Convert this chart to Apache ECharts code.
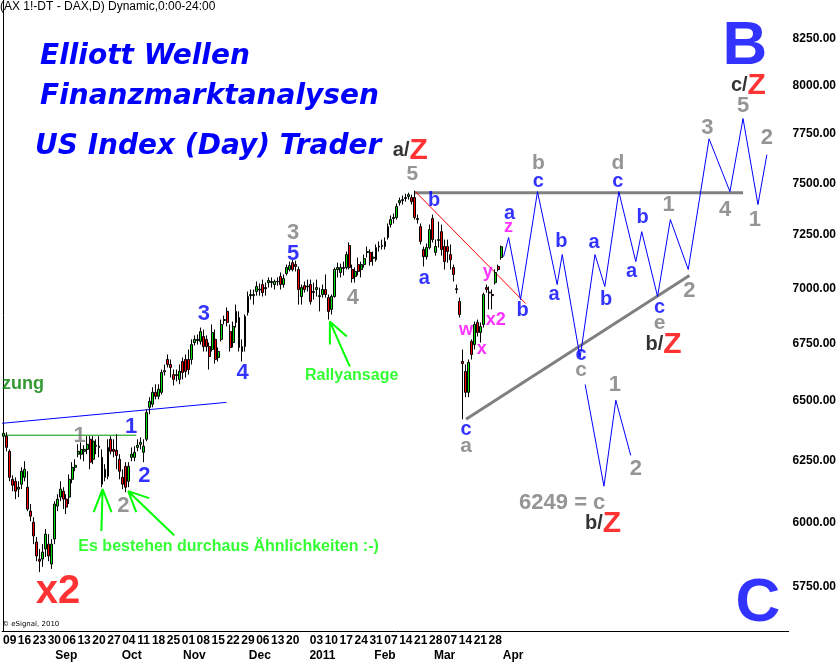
<!DOCTYPE html>
<html><head><meta charset="utf-8">
<script src="https://cdn.jsdelivr.net/npm/echarts@6/dist/echarts.min.js"></script>
<style>html,body{margin:0;padding:0;background:#fff}#c{width:839px;height:662px}</style>
</head><body><div id="c"></div>
<script>
// ---------------- DATA ----------------
const startDate = '2010-08-05';
const slotCount = 264;
const holidays = ['2010-12-24','2010-12-31','2011-04-22','2011-04-25'];
const dayTicks = ['2010-08-09','2010-08-16','2010-08-23','2010-08-30','2010-09-06','2010-09-13','2010-09-20','2010-09-27','2010-10-04','2010-10-11','2010-10-18','2010-10-25','2010-11-01','2010-11-08','2010-11-15','2010-11-22','2010-11-29','2010-12-06','2010-12-13','2010-12-20','2011-01-03','2011-01-10','2011-01-17','2011-01-24','2011-01-31','2011-02-07','2011-02-14','2011-02-21','2011-02-28','2011-03-07','2011-03-14','2011-03-21','2011-03-28'];
const monthTickDates = ['2010-09-03','2010-10-05','2010-11-03','2010-12-03','2011-01-05','2011-02-03','2011-03-03','2011-04-05'];
const monthTickText = ['Sep','Oct','Nov','Dec','2011','Feb','Mar','Apr'];
const priceTicks = [5750,6000,6250,6500,6750,7000,7250,7500,7750,8000,8250];
const priceMin = 5585, priceMax = 8464;
const lastPrice = 7194;

const opens = [6350,6350,6287,6172,6164,6132,6152,6180,6140,6044,
6000,5922,5856,5856,5895,5914,5837,5934,6064,6100,
6124,6092,6100,6172,6221,6275,6275,6287,6295,6337,
6254,6308,6308,6262,6180,6184,6337,6295,6291,6254,
6180,6225,6164,6262,6262,6303,6316,6283,6337,6472,
6485,6536,6519,6536,6625,6679,6657,6613,6609,6592,
6670,6679,6679,6679,6754,6763,6759,6781,6768,6736,
6723,6768,6688,6768,6853,6894,6803,6754,6844,6866,
6736,6736,6889,6966,6966,6985,6992,7017,7003,7026,
7026,7017,7030,7054,7017,7068,7087,7119,7110,7087,
6962,7012,7006,7017,6985,6994,6966,6971,6994,6957,
6903,6962,7087,7073,7096,7096,7200,7087,7054,7110,
7087,7110,7167,7167,7140,7133,7193,7200,7195,7238,
7300,7329,7334,7406,7416,7426,7436,7431,7431,7324,
7290,7181,7147,7190,7329,7167,7224,7266,7195,7195,
7157,7096,6998,6939,6670,6627,6536,6759,6745,6844,
6799,6835,7003,6982,6971,7026,7101,7143];
const closes = [6362,6303,6180,6148,6124,6140,6205,6213,6052,6024,
5946,5868,5848,5883,5953,5868,5914,6072,6092,6132,
6092,6060,6172,6221,6229,6287,6295,6295,6316,6242,
6329,6312,6303,6152,6213,6303,6287,6287,6270,6205,
6152,6140,6225,6275,6283,6312,6324,6308,6450,6497,
6536,6519,6549,6622,6630,6657,6644,6592,6613,6627,
6622,6627,6635,6745,6768,6768,6803,6736,6736,6692,
6799,6679,6714,6835,6857,6844,6732,6826,6894,6732,
6714,6871,6962,6971,6971,7008,6996,6980,6998,7036,
7031,7031,7032,7017,7045,7096,7105,7087,7101,6994,
7003,6994,7010,6939,6980,7003,6962,6994,6971,6894,
6962,7087,7096,7096,7092,7157,7096,7045,7078,7078,
7110,7138,7171,7124,7145,7190,7197,7195,7219,7290,
7324,7334,7387,7416,7421,7431,7445,7411,7334,7329,
7219,7147,7190,7276,7228,7195,7228,7181,7124,7171,
7133,7064,6994,6880,6661,6536,6666,6701,6835,6799,
6826,6971,6994,6978,6966,7073,7087,7194];
const lows = [6337,6287,6164,6124,6092,6100,6132,6164,6044,6004,
5914,5848,5806,5826,5864,5848,5818,5914,6044,6084,
6052,6032,6072,6156,6205,6262,6254,6246,6275,6213,
6234,6275,6262,6140,6164,6172,6275,6262,6213,6172,
6132,6120,6140,6246,6246,6287,6295,6242,6329,6442,
6472,6506,6506,6527,6609,6644,6600,6566,6583,6571,
6592,6600,6613,6657,6741,6745,6745,6714,6714,6635,
6714,6661,6670,6759,6835,6826,6714,6732,6821,6714,
6670,6714,6875,6948,6925,6966,6966,6962,6966,7003,
7003,6994,7012,6994,7003,7059,7078,7078,7078,6925,
6925,6980,6985,6925,6948,6962,6894,6957,6957,6857,
6880,6957,7050,7050,7059,7087,7087,7026,7026,7059,
7050,7096,7143,7105,7105,7124,7171,7181,7181,7228,
7286,7305,7324,7392,7397,7411,7421,7397,7324,7305,
7205,7101,7133,7181,7214,7152,7190,7152,7087,7119,
7087,7031,6976,6866,6421,6515,6515,6679,6723,6781,
6754,6821,6980,6903,6903,7017,7078,7133];
const highs = [6387,6366,6295,6188,6180,6164,6221,6246,6205,6072,
6020,5942,5895,5914,5973,5953,5934,6084,6112,6164,
6140,6112,6192,6242,6254,6316,6324,6312,6350,6350,
6350,6337,6350,6295,6234,6337,6350,6337,6358,6275,
6213,6242,6242,6303,6308,6337,6345,6337,6463,6515,
6558,6571,6571,6635,6657,6701,6679,6635,6635,6657,
6688,6701,6723,6768,6786,6790,6821,6812,6786,6754,
6835,6812,6732,6857,6875,6912,6835,6848,6925,6894,
6768,6880,6985,6994,6994,7031,7022,7040,7026,7050,
7050,7040,7050,7073,7064,7110,7124,7133,7128,7101,
7017,7031,7040,7040,7026,7040,7003,7017,7064,6971,
6971,7096,7119,7114,7124,7171,7215,7110,7096,7143,
7124,7157,7195,7181,7171,7205,7219,7228,7238,7305,
7344,7353,7402,7431,7441,7450,7455,7445,7465,7348,
7305,7195,7209,7300,7348,7228,7314,7300,7228,7228,
7205,7110,7017,6957,6723,6657,6679,6768,6848,6857,
6844,6980,7017,7008,6994,7087,7110,7200];

// drawn lines: [slot index, price]
const triangleTop = [[137.8,7455],[248.2,7455]];
const triangleBottom = [[155.2,6421],[230.2,7059]];
const redTrend = [[138.2,7460],[175.2,6930]];
const blueTrend = [[-0.5,6404],[74.8,6493]];
const greenNeck = [[-0.5,6354],[44.5,6354]];
const pathMain = [[167.8,7147],[169.5,7238],[173.5,6948],[179.2,7460],[185.8,7017],[187.5,7157],[193.5,6687],[198.5,7157],[201.8,7008],[206.5,7460],[212.2,7124],[214.2,7266],[219.5,6962],[223.8,7324],[229.8,7087],[236.8,7724],[243.8,7460],[248.2,7828],[253.2,7397],[256.2,7644]];
const pathAlt = [[195.2,6570],[201.5,6144],[205.5,6502],[210.5,6270]];
const arrowA = [[30.2,6040],[33.2,6132],[36.2,6040],[33.2,6132],[32.8,5965]];
const arrowB = [[44.5,6040],[41.8,6124],[48.8,6096],[41.8,6124],[57.2,5949]];
const arrowC = [[109.5,6745],[109.5,6848],[115.2,6781],[109.5,6848],[116.2,6648]];

// annotations
const annX = [136.5,137.2,144.5,141.2,155.2,155.2,155.2,160.5,165.2,162.5,169.5,169.8,174.2,179.5,179.5,187.2,184.8,193.8,193.8,198.2,202.2,206.2,206.2,214.5,210.8,223.2,220.2,220.2,221.5,230.2,236.2,242.2,248.2,252.2,256.2,250.0,248.8,253.2,205.2,212.2,187.5,201.2,18.2,25.5,42.8,47.2,40.2,67.2,80.2,97.2,97.2,117.2,116.8,75.5,6.5];
const annP = [7664,7544,7416,7045,6379,6308,6812,6723,6857,7073,7290,7353,6898,7600,7509,7219,6971,6701,6631,7214,6948,7600,7509,7334,7078,7397,6912,6839,6745,6989,7782,7372,7894,7324,7730,8000,8206,5687,6566,6213,6076,5994,5730,6350,6387,6184,6064,6884,6618,7262,7162,6957,6609,5905,6570];
const annText = ['a/Z','5','b','a','c','a','w','x','x2','y','z','a','b','b','c','b','a','c','c','a','b','d','c','b','a','1','c','e','b/Z','2','3','4','5','1','2','c/Z','B','C','1','2','6249 = c','b/Z','x2','1','1','2','2','3','4','3','5','4','Rallyansage','Es bestehen durchaus Ähnlichkeiten :-)','zung'];
const annKind = ['slash','grey','blue','blue','blue','grey','mag','mag','mag','mag','mag','blue','blue','grey','blue','blue','blue','blue','grey','blue','blue','grey','blue','blue','blue','greyN','blue','grey','slash','greyN','greyN','greyN','greyN','greyN','greyN','slash','big','big','greyN','greyN','greyN','slash','bigRed','greyN','blueN','blueN','greyN','blueN','blueN','greyN','blueN','greyN','green','green','dkgreen'];

// ---------------- CHART ----------------
const FF = '"Liberation Sans", Arial, sans-serif';
const dates = [];
(function(){
  let t = Date.parse(startDate + 'T00:00:00Z');
  while (dates.length < slotCount) {
    const dt = new Date(t); const wd = dt.getUTCDay(); const s = dt.toISOString().slice(0,10);
    if (wd !== 0 && wd !== 6 && holidays.indexOf(s) < 0) dates.push(s);
    t += 86400000;
  }
})();
const L = Math.log;
const monthMap = {}; monthTickDates.forEach((d,i)=>monthMap[d]=monthTickText[i]);
const daySet = new Set(dayTicks);

const GREY = '#7a7a7a';
const kindStyle = {
  blue:{color:'#0000ff',fontSize:20,fontWeight:'bold'},
  blueN:{color:'#0000ff',fontSize:22,fontWeight:'bold'},
  grey:{color:GREY,fontSize:21,fontWeight:'bold'},
  greyN:{color:GREY,fontSize:22,fontWeight:'bold'},
  mag:{color:'#ff00ff',fontSize:18,fontWeight:'bold'},
  big:{color:'#0000ff',fontSize:62,fontWeight:'bold'},
  bigRed:{color:'#ff0000',fontSize:40,fontWeight:'bold'},
  green:{color:'#00ff00',fontSize:16,fontWeight:'bold'},
  dkgreen:{color:'#007f00',fontSize:18,fontWeight:'bold'},
  slash:{rich:{k:{color:'#000',fontSize:20,fontWeight:'bold',fontFamily:FF},r:{color:'#ff0000',fontSize:30,fontWeight:'bold',fontFamily:FF}}}
};
const annData = annX.map((x,i)=>{
  const k = annKind[i];
  let txt = annText[i];
  if (k === 'slash') txt = '{k|' + txt.slice(0,-1) + '}{r|' + txt.slice(-1) + '}';
  return {value:[x, L(annP[i])], label:Object.assign({show:true, position:'inside', formatter:txt, fontFamily:FF}, kindStyle[k])};
});

function lineSeries(pts, color, width, z){
  return {type:'line', xAxisIndex:2, yAxisIndex:0, data:pts.map(p=>[p[0], L(p[1])]), symbol:'none', silent:true,
    lineStyle:{color:color, width:width}, z:z||3, animation:false};
}

const chart = echarts.init(document.getElementById('c'), null, {renderer:'canvas'});
chart.setOption({
  animation:false,
  backgroundColor:'#ffffff',
  grid:{left:0, right:48, top:0, bottom:30, containLabel:false},
  xAxis:[
    {type:'category', data:dates, boundaryGap:true, position:'bottom',
      axisLine:{show:true, lineStyle:{color:'#000', width:1}}, axisTick:{show:false}, splitLine:{show:false},
      axisLabel:{interval:(i,v)=>daySet.has(v), formatter:(v)=>v.slice(8), color:'#000', fontWeight:'bold', fontSize:12, fontFamily:FF, margin:4}},
    {type:'category', data:dates, boundaryGap:true, position:'bottom', offset:15,
      axisLine:{show:false}, axisTick:{show:false}, splitLine:{show:false},
      axisLabel:{interval:(i,v)=>monthMap[v]!==undefined, formatter:(v)=>monthMap[v]||'', color:'#000', fontWeight:'bold', fontSize:12, fontFamily:FF, margin:4}},
    {type:'value', min:-0.5, max:slotCount-0.5, show:false}
  ],
  yAxis:[{type:'value', position:'right', min:L(priceMin), max:L(priceMax),
    axisLine:{show:true, lineStyle:{color:'#000', width:1}}, axisTick:{show:false}, splitLine:{show:false},
    axisLabel:{customValues:priceTicks.map(L), formatter:(v)=>Math.exp(v).toFixed(2), color:'#000', fontWeight:'bold', fontSize:12, fontFamily:FF, margin:4}}],
  graphic:[
    {type:'text', x:0, y:7, style:{text:'(AX 1!-DT - DAX,D) Dynamic,0:00-24:00', font:'12px "Liberation Sans"', fill:'#000', verticalAlign:'middle'}},
    {type:'text', x:40, y:57, style:{text:'Elliott Wellen', font:'italic bold 28px "DejaVu Sans"', fill:'#0000ff', verticalAlign:'middle'}},
    {type:'text', x:40, y:97, style:{text:'Finanzmarktanalysen', font:'italic bold 28px "DejaVu Sans"', fill:'#0000ff', verticalAlign:'middle'}},
    {type:'text', x:35, y:147, style:{text:'US Index (Day) Trader', font:'italic bold 28px "DejaVu Sans"', fill:'#0000ff', verticalAlign:'middle'}},
    {type:'text', x:2, y:624, style:{text:'© eSignal, 2010', font:'7px "DejaVu Sans"', fill:'#000', verticalAlign:'middle'}}
  ],
  series:[
    {type:'candlestick', xAxisIndex:0, yAxisIndex:0, barWidth:2.4, z:5,
      data:opens.map((o,i)=>[L(o), L(closes[i]), L(lows[i]), L(highs[i])]),
      itemStyle:{color:'#00e000', color0:'#ff0000', borderColor:'#000', borderColor0:'#000', borderWidth:1},
      markLine:{silent:true, symbol:'none', animation:false,
        lineStyle:{opacity:0},
        label:{show:true, position:'end', distance:2, formatter:lastPrice.toFixed(2), color:'#fff', backgroundColor:'#00ff00', fontWeight:'bold', fontSize:12, fontFamily:FF, padding:[1,1,0,1]},
        data:[{yAxis:L(lastPrice)}]}},
    lineSeries(greenNeck,'#009900',1,2),
    lineSeries(blueTrend,'#0000ff',1,2),
    lineSeries(redTrend,'#ff0000',1,4),
    lineSeries(triangleTop,'#808080',3,3),
    lineSeries(triangleBottom,'#808080',3,3),
    lineSeries(pathMain,'#0000ff',1,4),
    lineSeries(pathAlt,'#0000ff',1,4),
    lineSeries(arrowA,'#00ff00',2,4),
    lineSeries(arrowB,'#00ff00',2,4),
    lineSeries(arrowC,'#00ff00',2,4),
    {type:'scatter', xAxisIndex:2, yAxisIndex:0, symbolSize:0.1, itemStyle:{color:'rgba(0,0,0,0)'}, silent:true, z:10,
      data:annData}
  ]
});
</script></body></html>
